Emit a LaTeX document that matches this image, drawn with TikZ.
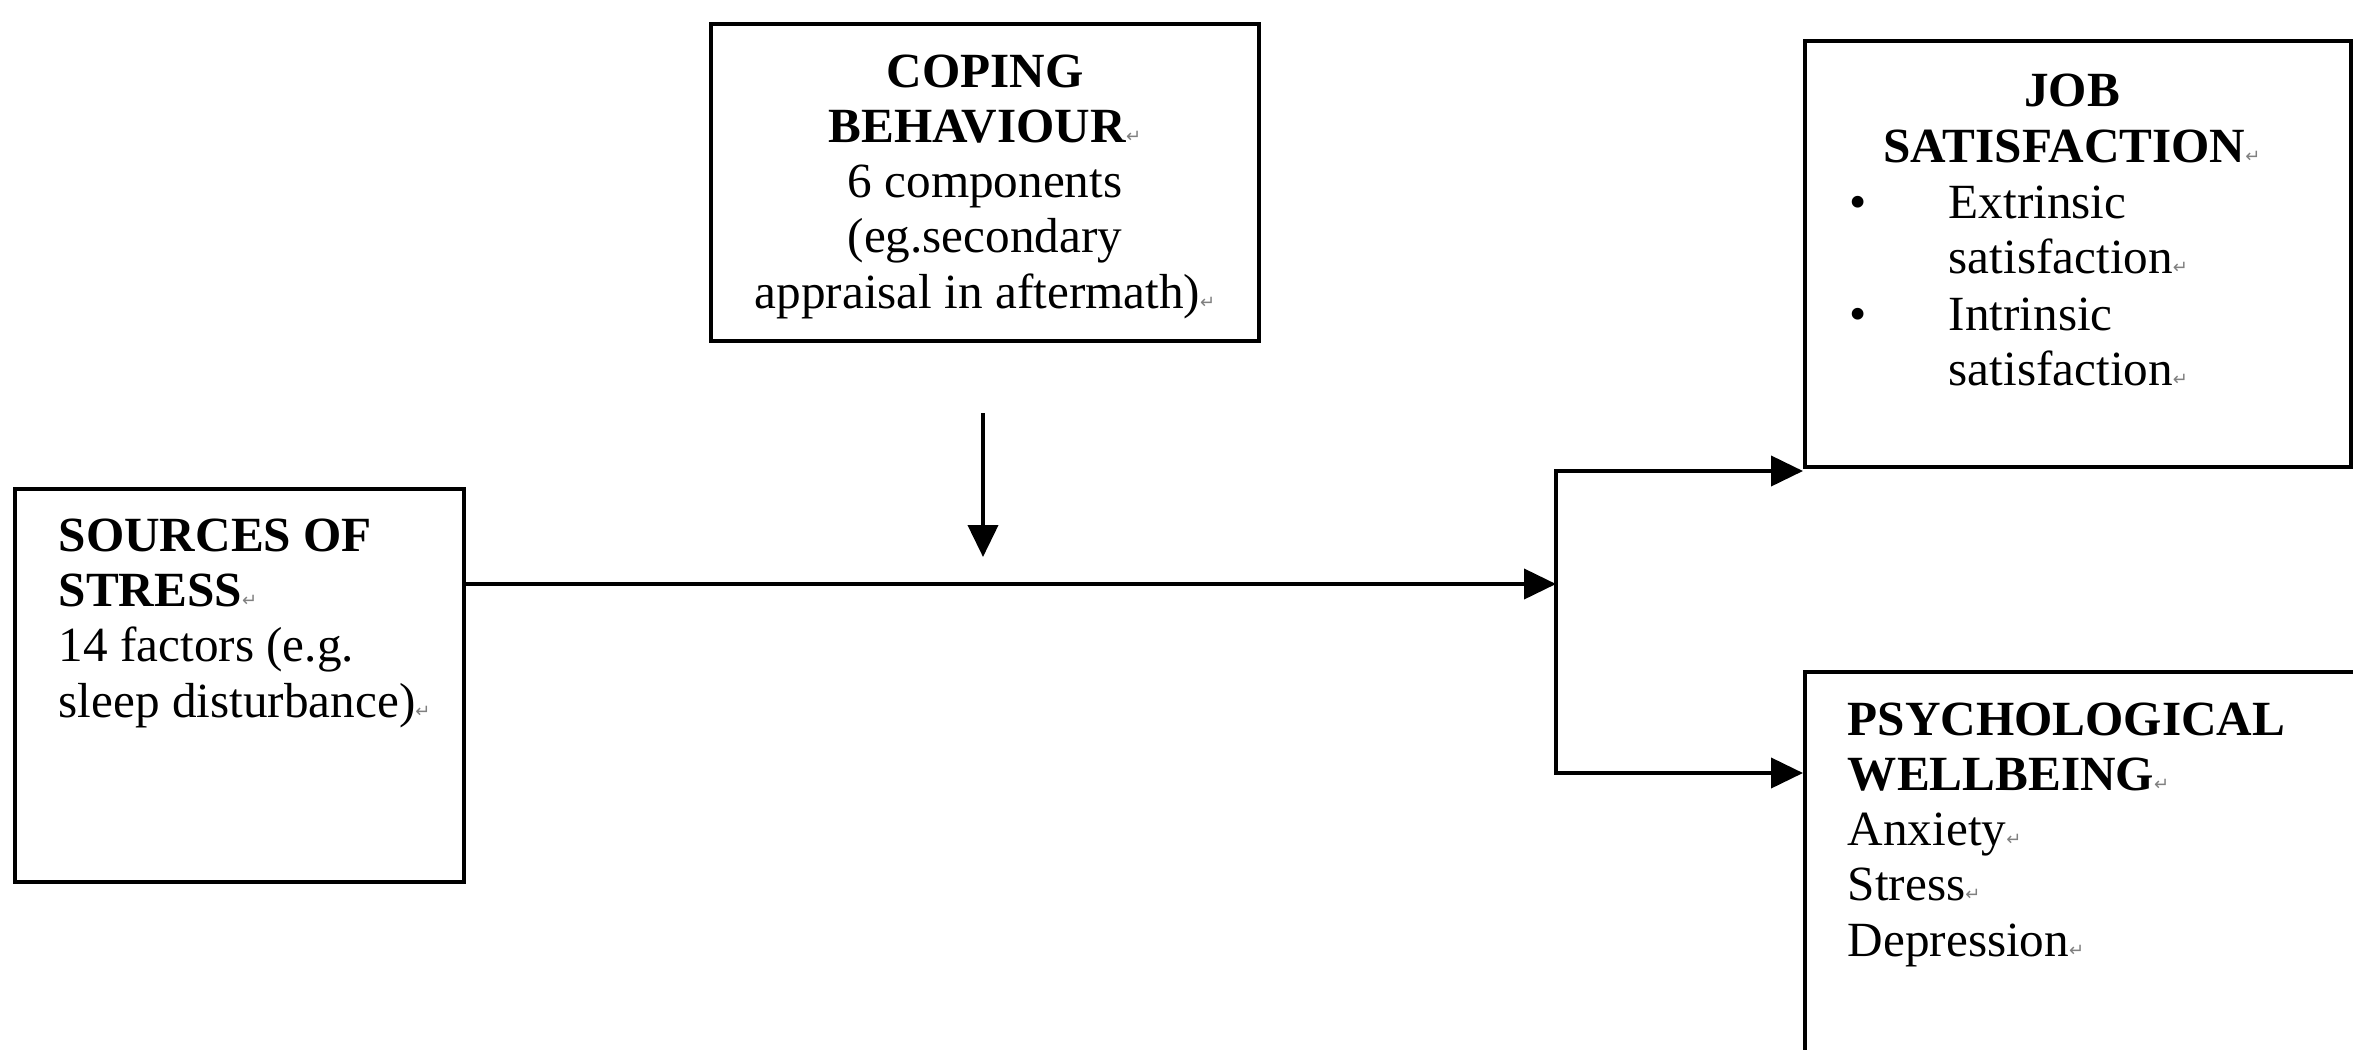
\documentclass[tikz,border=0pt]{standalone}
\usepackage{fontspec}
\setmainfont{Liberation Serif}
\newfontfamily\markfont{DejaVu Sans}
\usepackage{xcolor}
\usepackage{tikz}
\usetikzlibrary{arrows.meta,positioning,calc}
\newcommand{\pmark}{{\markfont\fontsize{4.5}{5}\selectfont\textcolor{gray}{↵}}}

\begin{document}
\begin{tikzpicture}[x=0.25pt,y=-0.25pt,
    box/.style={draw,line width=1pt,inner sep=0pt},
    txt/.style={inner sep=0pt,font=\fontsize{12.3}{13.8}\selectfont},
    conn/.style={line width=1pt,-{Triangle[length=8pt,width=7.5pt]}},
    fork/.style={line width=1pt,{Triangle[length=8pt,width=7.5pt]}-{Triangle[length=8pt,width=7.5pt]}}]
    \useasboundingbox (0,0) rectangle (2353,1049);
    % boxes
    \node[box,minimum width=137pt,minimum height=79.25pt] (coping) at (985,182.5) {};
    \node[box,minimum width=112.25pt,minimum height=98.25pt] (sources) at (239.5,685.5) {};
    \node[box,minimum width=136.5pt,minimum height=106.5pt] (job) at (2078,254) {};
    \node[box,minimum width=138.75pt,minimum height=97pt] (wellbeing) at (2082.5,866) {};
    % texts (base = last line)
    \node[txt,align=center,anchor=base] (copingtxt) at (985,308)
        {\textbf{COPING}\\\textbf{BEHAVIOUR}\pmark\\6 components\\(eg.secondary\\appraisal in aftermath)\pmark};
    \node[txt,align=left,anchor=base west] (sourcestxt) at (58,717)
        {\textbf{SOURCES OF}\\\textbf{STRESS}\pmark\\14 factors (e.g.\\sleep disturbance)\pmark};
    \node[txt,align=center,anchor=base] (jobtxt) at (2072,162)
        {\textbf{JOB}\\\textbf{SATISFACTION}\pmark};
    \foreach \kind/\yy [count=\i] in {Extrinsic/218,Intrinsic/330} {
        \node[txt,anchor=base] (bullet\i) at (1858,\yy) {\textbullet};
        \node[txt,align=left,anchor=base west] (kind\i) at ([yshift=-13.8pt]1948,\yy) {\kind\\satisfaction\pmark};
    }
    \node[txt,align=left,anchor=base west] (wellbeingtxt) at (1847,956)
        {\textbf{PSYCHOLOGICAL}\\\textbf{WELLBEING}\pmark\\Anxiety\pmark\\Stress\pmark\\Depression\pmark};
    % connectors
    \coordinate (split) at (1556,584);
    \coordinate (up) at (1556,471);
    \coordinate (down) at (1556,773);
    \coordinate (ctop) at (983,413);
    \coordinate (ctip) at (983,557);
    \draw[conn] (sources.east |- split) -- (split);
    \draw[fork] (up -| job.west) -- (up) -- (down) -- (down -| wellbeing.west);
    \draw[conn] (ctop) -- (ctip);
\end{tikzpicture}
\end{document}
